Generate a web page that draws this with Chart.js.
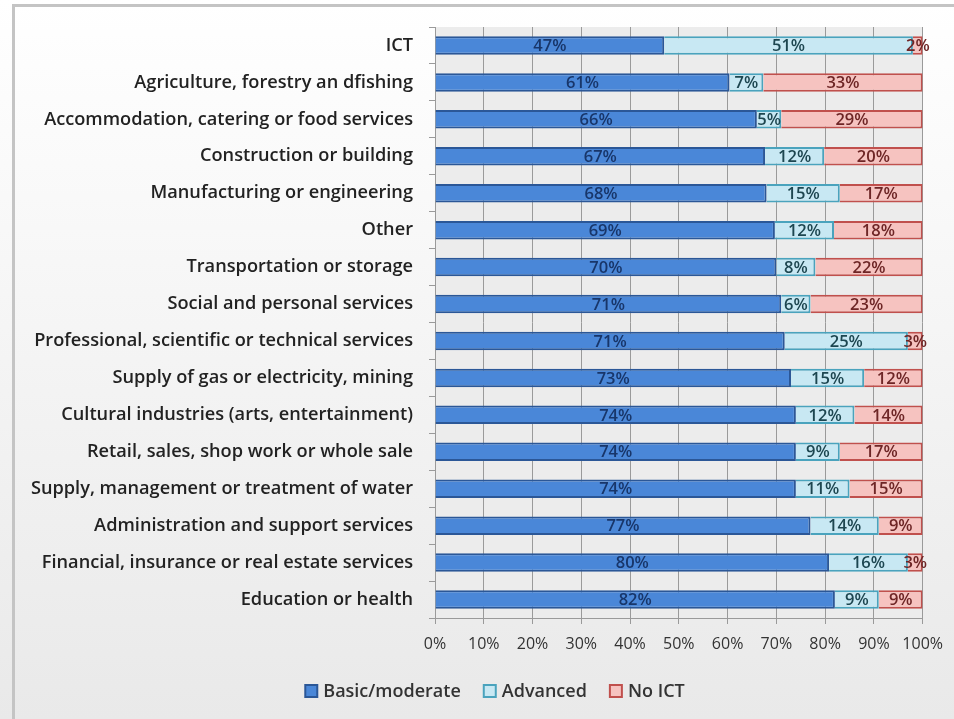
<!DOCTYPE html>
<html>
<head>
<meta charset="utf-8">
<script src="https://cdn.jsdelivr.net/npm/chart.js@4.4.1/dist/chart.umd.min.js"></script>
<style>
html,body{margin:0;padding:0;background:#f4f4f4;}
#wrap{width:954px;height:719px;position:relative;}
</style>
</head>
<body>
<div id="wrap"><canvas id="c" width="954" height="719"></canvas></div>
<script>
const categories = [
  "ICT",
  "Agriculture, forestry an dfishing",
  "Accommodation, catering or food services",
  "Construction or building",
  "Manufacturing or engineering",
  "Other",
  "Transportation or storage",
  "Social and personal services",
  "Professional, scientific or technical services",
  "Supply of gas or electricity, mining",
  "Cultural industries (arts, entertainment)",
  "Retail, sales, shop work or whole sale",
  "Supply, management or treatment of water",
  "Administration and support services",
  "Financial, insurance or real estate services",
  "Education or health"
];
const basicModerate = [47,61,66,67,68,69,70,71,71,73,74,74,74,77,80,82];
const advanced      = [51, 7, 5,12,15,12, 8, 6,25,15,12, 9,11,14,16, 9];
const noICT         = [ 2,33,29,20,17,18,22,23, 3,12,14,17,15, 9, 3, 9];
const xTicks = ["0%","10%","20%","30%","40%","50%","60%","70%","80%","90%","100%"];

const seriesRaw = [basicModerate, advanced, noICT];
const totals = categories.map((_, i) => seriesRaw.reduce((s, a) => s + a[i], 0));
const share = arr => arr.map((v, i) => v / totals[i] * 100);

const FONT = "'Open Sans', Lato, sans-serif";

const bgPlugin = {
  id: 'bg',
  beforeDraw(chart) {
    const ctx = chart.ctx, W = chart.width, H = chart.height;
    ctx.save();
    const g = ctx.createLinearGradient(0, 0, 0, H);
    g.addColorStop(0, '#ffffff');
    g.addColorStop(1, '#e9e9e9');
    ctx.fillStyle = g;
    ctx.fillRect(0, 0, W, H);
    ctx.strokeStyle = '#c4c4c4';
    ctx.lineWidth = 3;
    ctx.beginPath();
    ctx.moveTo(13.5, H);
    ctx.lineTo(13.5, 5.5);
    ctx.lineTo(W, 5.5);
    ctx.stroke();
    const a = chart.chartArea;
    ctx.fillStyle = '#ececec';
    ctx.fillRect(a.left, a.top, a.right - a.left, a.bottom - a.top);
    ctx.restore();
  }
};

const labelPlugin = {
  id: 'segLabels',
  afterDatasetsDraw(chart) {
    const ctx = chart.ctx;
    ctx.save();
    ctx.font = "600 16.5px " + FONT;
    ctx.textAlign = 'center';
    ctx.textBaseline = 'middle';
    chart.data.datasets.forEach((ds, di) => {
      const meta = chart.getDatasetMeta(di);
      meta.data.forEach((bar, i) => {
        const cx = (bar.x + bar.base) / 2;
        ctx.fillStyle = ds.labelColor;
        ctx.fillText(ds.raw[i] + '%', cx, bar.y + 1);
      });
    });
    ctx.restore();
  }
};

// legend drawn below the axis, from the dataset labels and colours
const legendPlugin = {
  id: 'bottomLegend',
  afterDraw(chart) {
    const ctx = chart.ctx;
    ctx.save();
    ctx.font = "600 18px " + FONT;
    ctx.textBaseline = 'middle';
    ctx.textAlign = 'left';
    const y = 691, box = 12, gapText = 6, gapItem = 23;
    const items = chart.data.datasets.map(ds => ({ ds, w: ctx.measureText(ds.label).width }));
    const total = items.reduce((s, it) => s + box + gapText + it.w, 0) + gapItem * (items.length - 1);
    let x = 495 - total / 2;
    items.forEach(it => {
      ctx.fillStyle = it.ds.backgroundColor;
      ctx.strokeStyle = it.ds.borderColor;
      ctx.lineWidth = 2;
      ctx.fillRect(x, y - box / 2, box, box);
      ctx.strokeRect(x, y - box / 2, box, box);
      x += box + gapText;
      ctx.fillStyle = '#333';
      ctx.fillText(it.ds.label, x, y + 1);
      x += it.w + gapItem;
    });
    ctx.restore();
  }
};

new Chart(document.getElementById('c'), {
  type: 'bar',
  data: {
    labels: categories,
    datasets: [
      { label: 'Basic/moderate', data: share(basicModerate), raw: basicModerate,
        backgroundColor: '#4a87d8', borderColor: '#2b5797', borderWidth: 2, labelColor: '#18366a' },
      { label: 'Advanced', data: share(advanced), raw: advanced,
        backgroundColor: '#c8e8f3', borderColor: '#4aa3bd', borderWidth: 2, labelColor: '#1d4650' },
      { label: 'No ICT', data: share(noICT), raw: noICT,
        backgroundColor: '#f6c3c0', borderColor: '#c0504d', borderWidth: 2, labelColor: '#6e2626' }
    ]
  },
  options: {
    indexAxis: 'y',
    responsive: false,
    animation: false,
    devicePixelRatio: 1,
    categoryPercentage: 1,
    barPercentage: 0.5,
    layout: { padding: { left: 20, right: 31, top: 27, bottom: 55 } },
    scales: {
      x: {
        stacked: true, min: 0, max: 100,
        ticks: { stepSize: 10, color: '#333', font: { family: FONT, size: 16 }, padding: 11,
                 callback: (v, i) => xTicks[i] },
        grid: { color: '#9a9a9a', lineWidth: 1, tickLength: 6, drawTicks: true },
        border: { color: '#9a9a9a' },
        afterFit(s) { s.height = 46; }
      },
      y: {
        stacked: true,
        ticks: { color: '#222', font: { family: FONT, size: 18.2, weight: 600 }, padding: 16 },
        grid: { drawOnChartArea: false, tickLength: 6, color: '#9a9a9a', offset: true },
        border: { color: '#9a9a9a' },
        afterFit(s) { s.width = 415; }
      }
    },
    plugins: {
      tooltip: { enabled: false },
      legend: { display: false }
    }
  },
  plugins: [bgPlugin, labelPlugin, legendPlugin]
});
</script>
</body>
</html>
